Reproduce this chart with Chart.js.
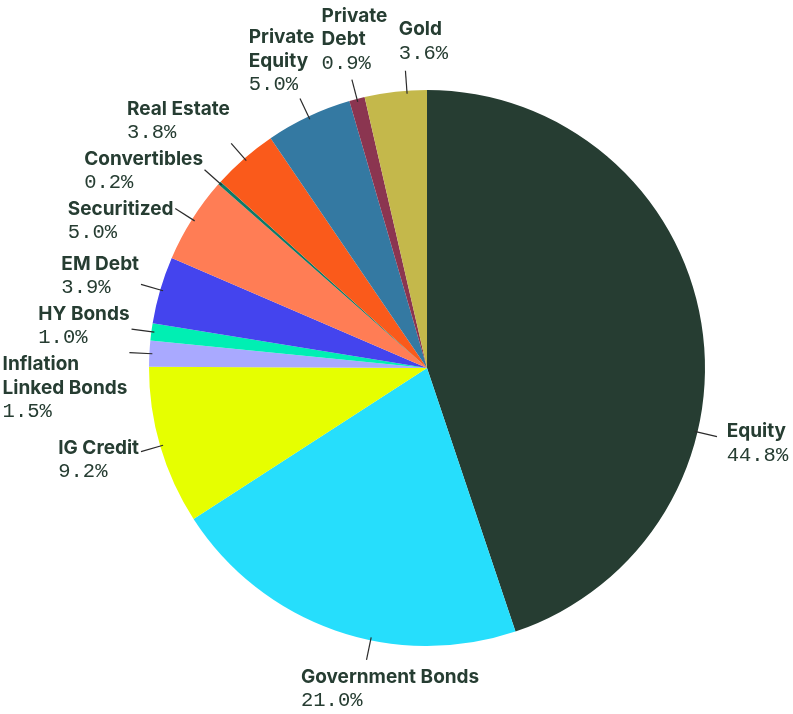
<!DOCTYPE html>
<html>
<head>
<meta charset="utf-8">
<script src="https://cdn.jsdelivr.net/npm/chart.js@4.4.0/dist/chart.umd.min.js"></script>
<style>
  html, body { margin: 0; padding: 0; background: #ffffff; }
  #wrap { width: 793px; height: 714px; }
</style>
</head>
<body>
<div id="wrap"><canvas id="allocation"></canvas></div>
<script>
// data
const categories = [
  "Equity", "Government Bonds", "IG Credit", ["Inflation", "Linked Bonds"], "HY Bonds",
  "EM Debt", "Securitized", "Convertibles", "Real Estate", ["Private", "Equity"],
  ["Private", "Debt"], "Gold"
];
const weights = [44.8, 21.0, 9.2, 1.5, 1.0, 3.9, 5.0, 0.2, 3.8, 5.0, 0.9, 3.6];
const sliceColors = [
  "#263d32", "#26defc", "#e6ff00", "#a9a9ff", "#00efb3",
  "#4444ee", "#ff7d55", "#0d7a68", "#fa5a1b", "#3479a2",
  "#8b3550", "#c4b84b"
];

// where along each slice the leader line sits (0 = start, 1 = end)
const leaderFrac = [0.64, 0.4, 0.5, 0.5, 0.5, 0.5, 0.5, 0.5, 0.5, 0.5, 0.5, 0.68];

const textColor = "#263d32";
const nameFont = "700 19px Inter";
const pctFont = "20.5px 'Liberation Mono'";
const lineH = 23.5;

const clamp = (v, a, b) => Math.max(a, Math.min(b, v));

// outside labels with short leader lines
const outLabels = {
  id: "outLabels",
  afterDatasetsDraw(chart) {
    const ctx = chart.ctx;
    const meta = chart.getDatasetMeta(0);
    const boxes = [];
    meta.data.forEach((arc, i) => {
      const p = arc.getProps(["x", "y", "startAngle", "endAngle", "outerRadius"], true);
      const ang = p.startAngle + (p.endAngle - p.startAngle) * leaderFrac[i];
      const dx = Math.cos(ang), dy = Math.sin(ang);
      const sx = p.x + dx * (p.outerRadius - 3);
      const sy = p.y + dy * (p.outerRadius - 3);
      const ex = p.x + dx * (p.outerRadius + 20);
      const ey = p.y + dy * (p.outerRadius + 20);

      ctx.save();
      ctx.strokeStyle = "#2b2b2b";
      ctx.lineWidth = 1.2;
      ctx.beginPath();
      ctx.moveTo(sx, sy);
      ctx.lineTo(ex, ey);
      ctx.stroke();
      ctx.restore();

      const names = Array.isArray(categories[i]) ? categories[i] : [categories[i]];
      const pct = weights[i].toFixed(1) + "%";
      ctx.font = nameFont;
      let w = 0;
      names.forEach(n => { w = Math.max(w, ctx.measureText(n).width); });
      ctx.font = pctFont;
      w = Math.max(w, ctx.measureText(pct).width);
      const h = (names.length + 1) * lineH;

      const ax = clamp(-1.8 * dx, 0, 1);
      const ay = (1 - dy) / 2;
      const offX = dx > 0 ? dx * 10 : dx * 2;
      const left = ex + offX - ax * w;
      const top = ey + dy * 6 - ay * h;
      boxes.push({ i, names, pct, left, top, w, h, ey, dy });
    });

    // resolve overlaps: side labels slide down, top labels slide left
    const sorted = boxes.slice().sort((a, b) => a.ey - b.ey);
    for (let k = 1; k < sorted.length; k++) {
      const b = sorted[k];
      for (let j = 0; j < k; j++) {
        const a = sorted[j];
        const hOverlap = b.left < a.left + a.w + 3 && a.left < b.left + b.w + 3;
        const vOverlap = b.top < a.top + a.h + 3 && b.top + b.h > a.top;
        if (!hOverlap || !vOverlap) continue;
        if (a.dy < -0.8 && b.dy < -0.8) {
          if (b.left < a.left) b.left = a.left - b.w - 8;
          else a.left = b.left - a.w - 8;
        } else {
          b.top = a.top + a.h + 3;
        }
      }
    }

    ctx.save();
    ctx.fillStyle = textColor;
    ctx.textAlign = "left";
    ctx.textBaseline = "middle";
    boxes.forEach(b => {
      ctx.font = nameFont;
      b.names.forEach((n, k) => ctx.fillText(n, b.left, b.top + lineH * (k + 0.5)));
      ctx.font = pctFont;
      ctx.fillText(b.pct, b.left, b.top + lineH * (b.names.length + 0.5));
    });
    ctx.restore();
  }
};

new Chart(document.getElementById("allocation"), {
  type: "pie",
  data: {
    labels: categories,
    datasets: [
      {
        data: weights,
        backgroundColor: sliceColors,
        borderWidth: 0,
      },
    ],
  },
  options: {
    responsive: true,
    maintainAspectRatio: false,
    animation: false,
    layout: {
      padding: { left: 149, right: 88, top: 90, bottom: 68 },
    },
    plugins: {
      legend: { display: false },
      tooltip: { enabled: false },
    },
  },
  plugins: [outLabels],
});
</script>
</body>
</html>
